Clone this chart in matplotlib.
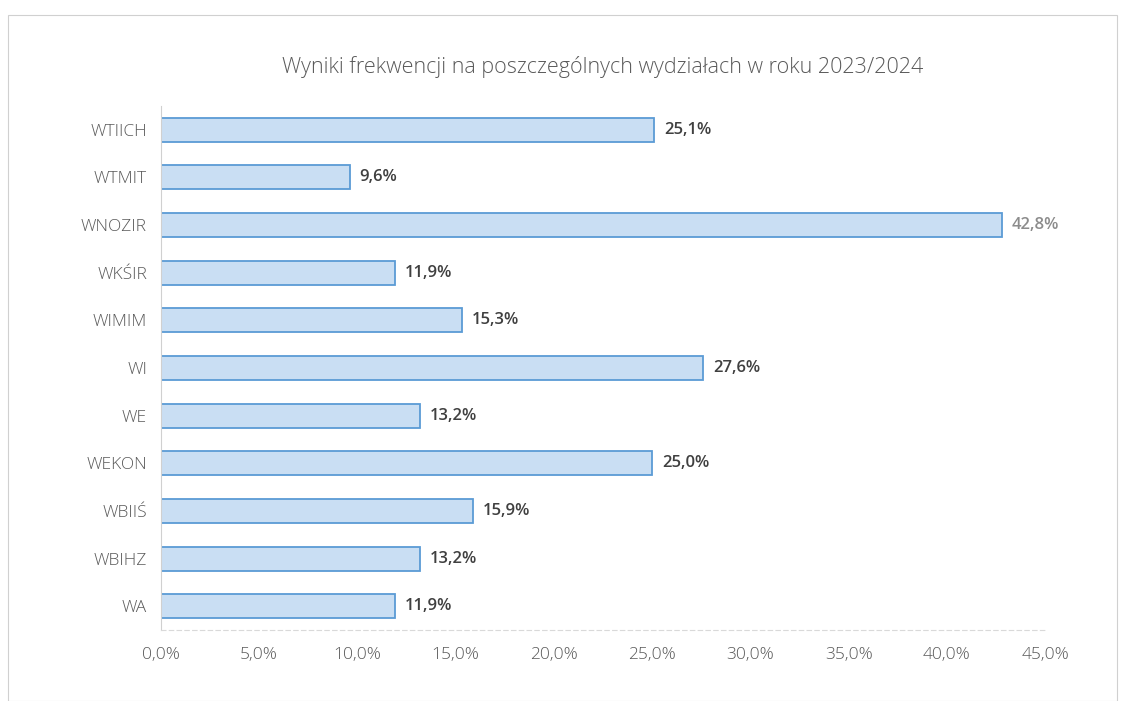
import matplotlib.pyplot as plt
from matplotlib.patches import Rectangle

# frekwencja na wydzialach
wydzialy = ['WTIICH', 'WTMIT', 'WNOZIR', 'WKŚIR', 'WIMIM', 'WI', 'WE', 'WEKON', 'WBIIŚ', 'WBIHZ', 'WA']
frekwencja = [25.1, 9.6, 42.8, 11.9, 15.3, 27.6, 13.2, 25.0, 15.9, 13.2, 11.9]
ticks = [0, 5, 10, 15, 20, 25, 30, 35, 40, 45]

plt.rcParams['font.family'] = ['Open Sans', 'DejaVu Sans']

fig = plt.figure(figsize=(11.25, 7.01), dpi=100)
ax = fig.add_axes([0.143, 0.101, 0.786, 0.748])

y = list(range(len(wydzialy)))
ax.barh(y, frekwencja, height=0.5, color='#C9DEF3', edgecolor='#5B9BD5', linewidth=1.3)

for i, v in enumerate(frekwencja):
    kolor = '#8C8C8C' if v > 40 else '#404040'
    ax.text(v + 0.5, i, f'{v:.1f}%'.replace('.', ','), va='center', ha='left',
            fontsize=12, color=kolor, fontweight='semibold')

ax.set_ylim(len(wydzialy) - 0.5, -0.5)
ax.set_xlim(0, 45)
ax.set_yticks(y)
ax.set_yticklabels(wydzialy, fontsize=12.5, color='#595959', fontweight='light')
ax.set_xticks(ticks)
ax.set_xticklabels([f'{t:.1f}%'.replace('.', ',') for t in ticks], fontsize=12.5,
                   color='#595959', fontweight='light')
ax.tick_params(length=0, pad=10)
ax.tick_params(axis='x', pad=12)

for s in ['top', 'right']:
    ax.spines[s].set_visible(False)
ax.spines['left'].set_color('#D0D0D0')
ax.spines['bottom'].set_color('#D9D9D9')
ax.spines['bottom'].set_linestyle((0, (4, 3)))

fig.text(0.536, 0.905, 'Wyniki frekwencji na poszczególnych wydziałach w roku 2023/2024',
         ha='center', va='center', fontsize=15.5, color='#595959', fontweight='light')

fig.patches.append(Rectangle((0.007, 0.0), 0.986, 0.978, transform=fig.transFigure,
                             fill=False, edgecolor='#D0D0D0', linewidth=0.8))

fig.savefig('out.png', dpi=100)
